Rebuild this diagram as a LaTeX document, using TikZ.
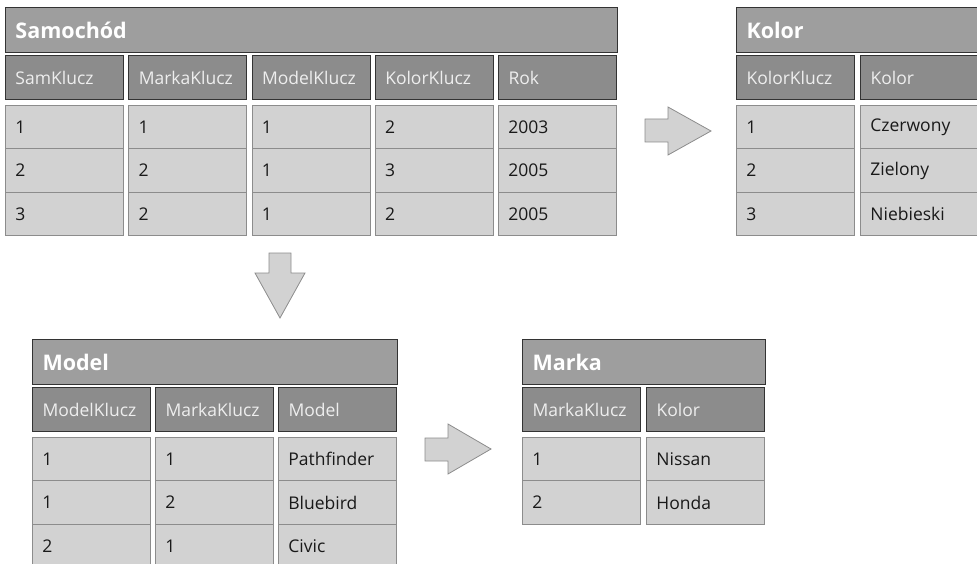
\documentclass[tikz,border=0pt]{standalone}
\usepackage{fontspec}
\setmainfont{Open Sans}
\usetikzlibrary{positioning}

\definecolor{titlegray}{RGB}{158,158,158}
\definecolor{headgray}{RGB}{140,140,140}
\definecolor{cellgray}{RGB}{210,210,210}
\definecolor{lightfont}{RGB}{238,238,238}
\definecolor{darkfont}{RGB}{25,25,25}

\begin{document}
\begin{tikzpicture}[x=1pt,y=-1pt,
  tabtitle/.style={draw=black!80,line width=1pt,fill=titlegray,text=white,
    font=\fontsize{21.5}{24}\selectfont\bfseries,anchor=north west,
    minimum height=45pt,inner xsep=10pt,align=left},
  head/.style={draw=black!80,line width=1pt,fill=headgray,text=lightfont,
    font=\fontsize{17.5}{20}\selectfont,anchor=north west,
    minimum height=44pt,text width=98pt,inner xsep=10pt,align=left},
  cell/.style={draw=black!45,line width=0.8pt,fill=cellgray,text=darkfont,
    font=\fontsize{17.5}{20}\selectfont,anchor=north west,
    minimum height=43.4pt,text width=98pt,inner xsep=10pt,align=left},
  bigarrow/.style={draw=black!45,line width=0.8pt,fill=cellgray}]
\clip (0,0) rectangle (977,564);
%
% Samochod
\node[tabtitle,text width=592pt] (samT) at (5,7) {Samochód};
\foreach \t [count=\j] in {SamKlucz,MarkaKlucz,ModelKlucz,KolorKlucz,Rok}
  \node[head] (samH\j) at ({5+(\j-1)*123.25},55) {\t};
\foreach \row [count=\i] in {{1,1,1,2,2003},{2,2,1,3,2005},{3,2,1,2,2005}}
  \foreach \v [count=\j] in \row
    \node[cell] (sam-\i-\j) at ({5+(\j-1)*123.25},{105+(\i-1)*43.4}) {\v};
%
% Kolor
\node[tabtitle,text width=222pt] (kolT) at (736,7) {Kolor};
\node[head] (kolH1) at (736,55) {KolorKlucz};
\node[head] (kolH2) at (860,55) {Kolor};
\foreach \a/\b [count=\i] in {1/Czerwony,2/Zielony,3/Niebieski}{
  \node[cell] (kol-\i-1) at (736,{105+(\i-1)*43.4}) {\a};
  \node[cell] (kol-\i-2) at (860,{105+(\i-1)*43.4}) {\b};
}
%
% Model
\node[tabtitle,text width=345pt] (modT) at (32,339) {Model};
\foreach \t [count=\j] in {ModelKlucz,MarkaKlucz,Model}
  \node[head] (modH\j) at ({32+(\j-1)*123},387) {\t};
\foreach \row [count=\i] in {{1,1,Pathfinder},{1,2,Bluebird},{2,1,Civic}}
  \foreach \v [count=\j] in \row
    \node[cell] (mod-\i-\j) at ({32+(\j-1)*123},{437+(\i-1)*43.4}) {\v};
%
% Marka
\node[tabtitle,text width=223pt] (marT) at (522,339) {Marka};
\node[head] (marH1) at (522,387) {MarkaKlucz};
\node[head] (marH2) at (646,387) {Kolor};
\foreach \a/\b [count=\i] in {1/Nissan,2/Honda}{
  \node[cell] (mar-\i-1) at (522,{437+(\i-1)*43.4}) {\a};
  \node[cell] (mar-\i-2) at (646,{437+(\i-1)*43.4}) {\b};
}
%
% strzalki
\draw[bigarrow] (645,119) -- (668,119) -- (668,107) -- (711,131)
  -- (668,155) -- (668,142) -- (645,142) -- cycle;
\draw[bigarrow] (269,253) -- (291,253) -- (291,273) -- (305,273)
  -- (280,318) -- (255,273) -- (269,273) -- cycle;
\draw[bigarrow] (425,438) -- (448,438) -- (448,424) -- (491,449)
  -- (448,474) -- (448,461) -- (425,461) -- cycle;
\end{tikzpicture}
\end{document}
